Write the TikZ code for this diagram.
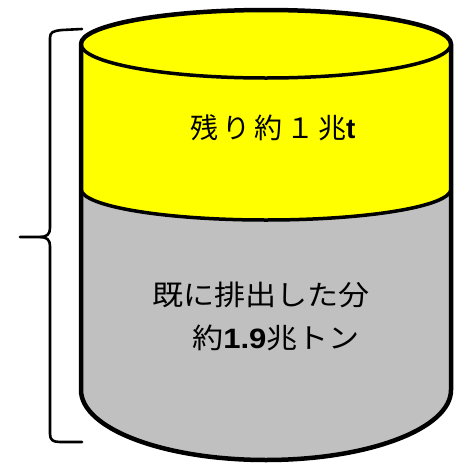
\documentclass[tikz,border=0pt]{standalone}
\usepackage{fontspec}
\newfontfamily\jp{Noto Sans CJK JP}
\newfontfamily\jpsp[LetterSpace=14]{Noto Sans CJK JP}
\newfontfamily\lat{Liberation Sans}
\definecolor{bandyellow}{HTML}{FFFF00}
\definecolor{lowgray}{HTML}{C0C0C0}
\begin{document}
\begin{tikzpicture}[x=1pt,y=-1pt,
  outer/.style={line width=4.5pt},
  inner/.style={line width=3.5pt},
  bracestyle/.style={line width=2.6pt, line cap=round, line join=round},
  label/.style={inner sep=0pt, font=\fontsize{28}{32}\selectfont}]
\useasboundingbox (0,0) rectangle (460,464);
% gray body
\fill[lowgray] (81,189) -- (81,390) arc[start angle=180,end angle=0,x radius=185,y radius=70] -- (451,189) -- cycle;
% yellow band
\fill[bandyellow] (81,189) -- (81,44) arc[start angle=180,end angle=360,x radius=185,y radius=34] -- (451,189) arc[start angle=0,end angle=180,x radius=185,y radius=31] -- cycle;
% outlines
\draw[inner] (451,44) arc[start angle=0,end angle=180,x radius=185,y radius=34];
\draw[inner] (451,189) arc[start angle=0,end angle=180,x radius=185,y radius=31];
\draw[outer, line join=round] (451,44) arc[start angle=0,end angle=-180,x radius=185,y radius=34] -- (81,390) arc[start angle=180,end angle=0,x radius=185,y radius=70] -- cycle;
% brace
\draw[bracestyle] (82,29) -- (62,30) .. controls (53,31) and (50,32) .. (50,38) -- (50,228) .. controls (50,234) and (47,237) .. (40,237) -- (20,237);
\draw[bracestyle] (40,237) .. controls (47,237) and (50,240) .. (50,246) -- (50,434) .. controls (50,440) and (53,442) .. (60,442) -- (82,442);
% labels
\node[label] (rest) at (273,128) {\jpsp 残り約１兆\lat\bfseries t};
\node[label, anchor=west] (done) at (152,295) {\scalebox{1.11}[1]{\jp 既に排出した分}};
\node[label, anchor=west] (amount) at (192,338) {\scalebox{1.11}[1]{\jp 約\lat\bfseries 1.9\jp\mdseries 兆トン}};
\end{tikzpicture}
\end{document}
